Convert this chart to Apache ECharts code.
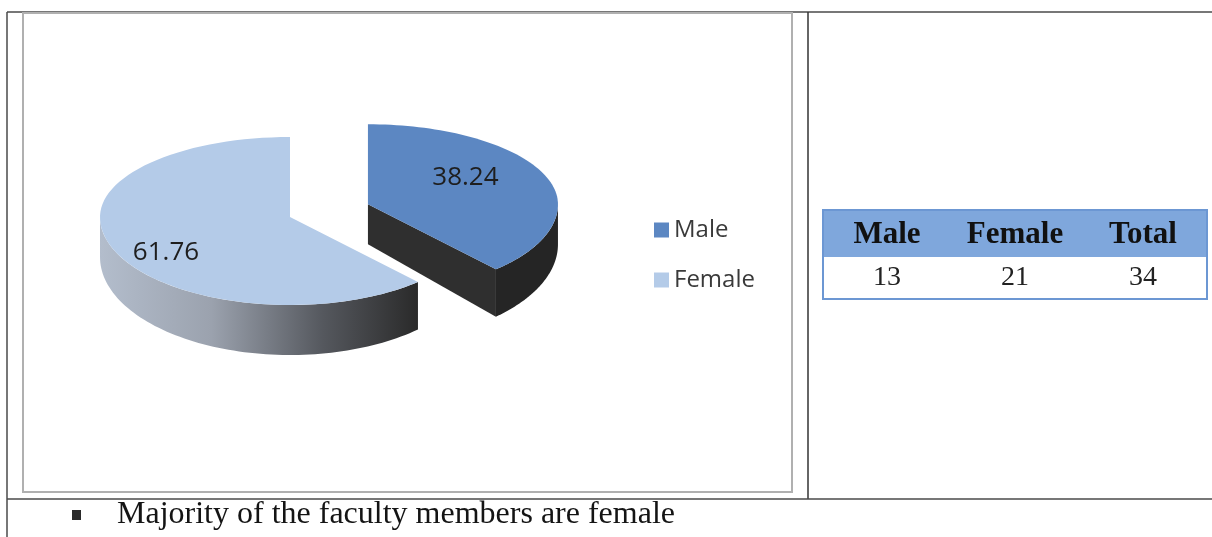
<!DOCTYPE html>
<html>
<head>
<meta charset="utf-8">
<script src="https://cdn.jsdelivr.net/npm/echarts@6/dist/echarts.min.js"></script>
<style>
html,body{margin:0;padding:0;background:#fff;}
#chart{width:1212px;height:537px;}
</style>
</head>
<body>
<div id="chart"></div>
<script>
// ---- data ----
const categories = ['Male', 'Female'];
const percentValues = [38.24, 61.76];
const tableHeaders = ['Male', 'Female', 'Total'];
const tableCounts = [13, 21, 34];
const bulletNote = 'Majority of the faculty members are female';

// ---- layout / style ----
const PIE = {cx: 290, cy: 217, rx: 190, ryBack: 80, ryFront: 88, depth: 40, depthVar: 10};
const sliceStyle = [
  {top: '#5c87c2', wall: '#252525', face: '#2f2f2f', explode: 0.44, labelFrac: 0.55, labelDy: -11},
  {top: '#b4cbe8',
   wall: new echarts.graphic.LinearGradient(0, 0, 1, 0, [
     {offset: 0, color: '#b3bdcc'}, {offset: 0.35, color: '#9ba2ae'},
     {offset: 0.7, color: '#55585e'}, {offset: 1, color: '#2a2a2a'}]),
   face: '#2e2e2e', explode: 0, labelFrac: 0.7, labelDy: 13}
];
const TABLE = {left: 823, right: 1207, top: 210, headBottom: 257, bottom: 299};

const total = percentValues.reduce((a, b) => a + b, 0);
let acc = 0;
const slices = percentValues.map(v => {
  const a0 = acc / total * 360; acc += v; return [v, a0, acc / total * 360];
});

const rad = d => d * Math.PI / 180;
function ryAt(deg) { return Math.cos(rad(deg)) > 0 ? PIE.ryBack : PIE.ryFront; }
function rim(cx, cy, deg) {
  const t = rad(deg);
  return [cx + PIE.rx * Math.sin(t), cy - ryAt(deg) * Math.cos(t)];
}
function dep(deg) { return PIE.depth + PIE.depthVar * (-Math.cos(rad(deg))); }

function renderSlice(params, api) {
  const st = sliceStyle[params.seriesIndex];
  const a0 = api.value(1), a1 = api.value(2), mid = (a0 + a1) / 2;
  const e = st.explode;
  const cx = PIE.cx + e * PIE.rx * Math.sin(rad(mid));
  const cy = PIE.cy - e * ryAt(mid) * Math.cos(rad(mid));
  const children = [];
  const N = 80;
  // outer wall (front-facing part)
  const w0 = Math.max(a0, 90), w1 = Math.min(a1, 270);
  if (w1 > w0) {
    const topPts = [], botPts = [];
    for (let n = 0; n <= N; n++) {
      const d = w0 + (w1 - w0) * n / N;
      const p = rim(cx, cy, d);
      topPts.push(p); botPts.push([p[0], p[1] + dep(d)]);
    }
    children.push({type: 'polygon', shape: {points: topPts.concat(botPts.reverse())}, style: {fill: st.wall}});
  }
  function face(d) {
    const p = rim(cx, cy, d);
    return {type: 'polygon', shape: {points: [[cx, cy], p, [p[0], p[1] + dep(d)], [cx, cy + PIE.depth]]}, style: {fill: st.face}};
  }
  const n1 = ((a1 % 360) + 360) % 360;
  if (n1 > 0 && n1 < 180) children.push(face(a1));
  const n0 = ((a0 % 360) + 360) % 360;
  if (n0 > 180 && n0 < 360) children.push(face(a0));
  // top face
  const pts = [[cx, cy]];
  for (let n = 0; n <= N; n++) pts.push(rim(cx, cy, a0 + (a1 - a0) * n / N));
  children.push({type: 'polygon', shape: {points: pts}, style: {fill: st.top}});
  // label
  const lx = cx + st.labelFrac * PIE.rx * Math.sin(rad(mid));
  const ly = cy - st.labelFrac * ryAt(mid) * Math.cos(rad(mid)) + st.labelDy;
  children.push({type: 'text', style: {text: api.value(0).toFixed(2), x: lx, y: ly,
    align: 'center', verticalAlign: 'middle', fill: '#1e1e1e', font: '26px "Open Sans"'}});
  return {type: 'group', children};
}

const series = categories.map((c, i) => ({
  name: c,
  type: 'custom',
  coordinateSystem: 'none',
  renderItem: renderSlice,
  itemStyle: {color: sliceStyle[i].top},
  data: [{name: c, value: slices[i]}],
  silent: true
}));

// ---- graphic: frames, table, note ----
const graphics = [];
const frame = '#4a4a4a';
graphics.push({type: 'line', shape: {x1: 7, y1: 12, x2: 1212, y2: 12}, style: {stroke: frame, lineWidth: 1.5}});
graphics.push({type: 'line', shape: {x1: 7, y1: 12, x2: 7, y2: 537}, style: {stroke: frame, lineWidth: 1.5}});
graphics.push({type: 'line', shape: {x1: 808, y1: 12, x2: 808, y2: 499}, style: {stroke: '#333', lineWidth: 1.5}});
graphics.push({type: 'line', shape: {x1: 7, y1: 499, x2: 1212, y2: 499}, style: {stroke: frame, lineWidth: 1.5}});
graphics.push({type: 'rect', shape: {x: 23, y: 13, width: 769, height: 479}, style: {fill: 'none', stroke: '#b0b0b0', lineWidth: 2}});

const colW = (TABLE.right - TABLE.left) / tableHeaders.length;
graphics.push({type: 'rect', shape: {x: TABLE.left, y: TABLE.top, width: TABLE.right - TABLE.left, height: TABLE.headBottom - TABLE.top},
  style: {fill: '#7fa7dc'}});
graphics.push({type: 'rect', shape: {x: TABLE.left, y: TABLE.top, width: TABLE.right - TABLE.left, height: TABLE.bottom - TABLE.top},
  style: {fill: 'none', stroke: '#6c97d3', lineWidth: 2}});
tableHeaders.forEach((h, i) => {
  graphics.push({type: 'text', style: {text: h, x: TABLE.left + colW * (i + 0.5), y: (TABLE.top + TABLE.headBottom) / 2 + 1,
    align: 'center', verticalAlign: 'middle', fill: '#111', font: 'bold 31px "Liberation Serif"'}});
});
tableCounts.forEach((v, i) => {
  graphics.push({type: 'text', style: {text: String(v), x: TABLE.left + colW * (i + 0.5), y: (TABLE.headBottom + TABLE.bottom) / 2,
    align: 'center', verticalAlign: 'middle', fill: '#222', font: '28px "Liberation Serif"'}});
});
graphics.push({type: 'rect', shape: {x: 72, y: 510, width: 9, height: 10}, style: {fill: '#2a2a2a'}});
graphics.push({type: 'text', style: {text: bulletNote, x: 117, y: 515, align: 'left', verticalAlign: 'middle',
  fill: '#141414', font: '32px "Liberation Serif"'}});

const chart = echarts.init(document.getElementById('chart'));
chart.setOption({
  animation: false,
  backgroundColor: '#ffffff',
  legend: {
    orient: 'vertical', left: 649, top: 211, itemWidth: 15, itemHeight: 15, itemGap: 22, icon: 'rect',
    data: categories,
    textStyle: {fontFamily: 'Open Sans', fontSize: 24, color: '#3a3a3a', lineHeight: 28}
  },
  graphic: graphics,
  series: series
});
</script>
</body>
</html>
